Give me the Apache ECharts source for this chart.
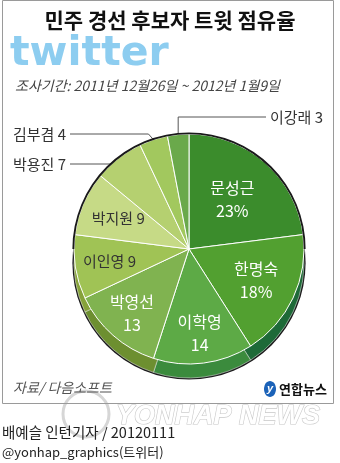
<!DOCTYPE html>
<html><head><meta charset="utf-8">
<script src="https://cdn.jsdelivr.net/npm/echarts@6/dist/echarts.min.js"></script>
<style>html,body{margin:0;padding:0;background:#fff}#c{width:340px;height:463px}</style>
</head><body><div id="c"></div>
<script>
const categories = ['문성근','한명숙','이학영','박영선','이인영','박지원','박용진','김부겸','이강래'];
const shares = [23,18,14,13,9,9,7,4,3];
const percentLabelIdx = [0,1];          // labels shown with %
const twoLineIdx = [0,1,2,3];           // name over value
const outsideIdx = [6,7,8];             // labels outside with leader lines
const titleText = '민주 경선 후보자 트윗 점유율';
const periodText = '조사기간: 2011년 12월26일 ~ 2012년 1월9일';
const sourceText = '자료/ 다음소프트';
const creditText = '배예슬 인턴기자 / 20120111';
const twitterText = '@yonhap_graphics(트위터)';

const topColors = ['#3b8c2c','#52a030','#5daa46','#80b350','#a0c355','#c6da86','#b5d070','#a2c85e','#6aa94b'];
const sideColors = ['#2a6c22','#1e6a38','#3b8b3d','#6d8f30','#86a23a','#94ac45','#90aa45','#7ea040','#4a8a3a'];

const CX = 189, CY = 249, R = 115, DEPTH = 14;
const labelRatio = [0.57, 0.645, 0.74, 0.75, 0.70, 0.67];

const total = shares.reduce((a,b)=>a+b,0);
const mids = []; let acc = 0;
shares.forEach(v => { mids.push((acc + v/2) / total * 360); acc += v; });

const chart = echarts.init(document.getElementById('c'), null, {renderer:'canvas'});
const FONT = '"Noto Sans CJK KR", "Noto Sans", sans-serif';

const topData = categories.map((n,i) => {
  const inside = outsideIdx.indexOf(i) < 0;
  const white = twoLineIdx.indexOf(i) >= 0;
  return {
    name: n, value: shares[i],
    itemStyle: {color: topColors[i]},
    label: {
      show: true,
      position: inside ? 'inside' : 'outside',
      color: white ? '#ffffff' : '#333333',
      fontSize: white ? 16 : 15,
      lineHeight: 23,
      fontFamily: FONT
    },
    labelLine: {show: !inside, lineStyle: {color: '#555', width: 1}}
  };
});
const sideData = categories.map((n,i) => ({name: n, value: shares[i], itemStyle: {color: sideColors[i]}}));

function fmt(p){
  const i = p.dataIndex;
  const val = shares[i] + (percentLabelIdx.indexOf(i) >= 0 ? '%' : '');
  return p.name + (twoLineIdx.indexOf(i) >= 0 ? '\n' : ' ') + val;
}

function rad(d){ return d * Math.PI / 180; }

chart.setOption({
  animation: false,
  graphic: [
    {type:'rect', shape:{x:2.5, y:0.5, width:331, height:403}, style:{fill:'none', stroke:'#9a9a9a', lineWidth:1}, z:0},
    {type:'text', x:170, y:20, style:{text: titleText, font:'bold 21px ' + FONT, fill:'#111', align:'center', verticalAlign:'middle'}},
    {type:'text', x:10, y:54, style:{text:'twitter', font:'bold 41px "DejaVu Sans", sans-serif', fill:'#8dcdf0', align:'left', verticalAlign:'middle'}},
    {type:'text', x:15, y:86, style:{text: periodText, font:'italic 14px ' + FONT, fill:'#444', align:'left', verticalAlign:'middle'}},
    {type:'text', x:13, y:388, style:{text: sourceText, font:'italic 14px ' + FONT, fill:'#555', align:'left', verticalAlign:'middle'}},
    {type:'ellipse', shape:{cx:270, cy:389, rx:6, ry:8}, style:{fill:'#1b62b8'}},
    {type:'text', x:270, y:389, style:{text:'y', font:'italic bold 11px sans-serif', fill:'#fff', align:'center', verticalAlign:'middle'}},
    {type:'text', x:279, y:389, style:{text:'연합뉴스', font:'bold 13px ' + FONT, fill:'#111', align:'left', verticalAlign:'middle'}},
    {type:'circle', shape:{cx:86, cy:414, r:23}, style:{fill:'none', stroke:'#d6d6d6', lineWidth:3}, z:-1},
    {type:'text', x:218, y:417, style:{text:'YONHAP NEWS', font:'italic bold 27px "Liberation Sans", sans-serif', fill:'#ffffff', stroke:'#c8c8c8', lineWidth:1.2, align:'center', verticalAlign:'middle'}, z:-1},
    {type:'text', x:2, y:432, style:{text: creditText, font:'14.5px ' + FONT, fill:'#222', align:'left', verticalAlign:'middle'}},
    {type:'text', x:2, y:452, style:{text: twitterText, font:'13px ' + FONT, fill:'#222', align:'left', verticalAlign:'middle'}}
  ],
  series: [
    {type:'pie', silent:true, center:[CX, CY+DEPTH], radius:R+1.6, label:{show:false}, labelLine:{show:false},
     data:[{value:1, itemStyle:{color:'#1a1a1a'}}], z:1},
    {type:'pie', silent:true, center:[CX, CY+DEPTH], radius:R, startAngle:90, clockwise:true,
     label:{show:false}, labelLine:{show:false}, avoidLabelOverlap:false,
     itemStyle:{borderColor:'rgba(255,255,255,0.6)', borderWidth:0.8}, data: sideData, z:2},
    {type:'pie', silent:true, center:[CX, CY], radius:R, startAngle:90, clockwise:true,
     avoidLabelOverlap:false,
     itemStyle:{borderColor:'#ffffff', borderWidth:1},
     label:{formatter: fmt},
     data: topData, z:3,
     labelLayout: function(p){
       const i = p.dataIndex;
       const a = rad(mids[i]);
       if (i < 6) {
         const rr = R * labelRatio[i];
         return {x: CX + rr*Math.sin(a), y: CY - rr*Math.cos(a), align:'center', verticalAlign:'middle'};
       }
       if (i === 6) {
         const ty = 164;
         const ex = CX - Math.sqrt(R*R - (ty-CY)*(ty-CY));
         return {x: 66, y: ty, align:'right', verticalAlign:'middle', labelLinePoints:[[ex, ty],[ex, ty],[70, ty]]};
       }
       if (i === 7) {
         const ex = CX + R*Math.sin(a), ey = CY - R*Math.cos(a);
         return {x: 66, y: 134, align:'right', verticalAlign:'middle', labelLinePoints:[[ex, ey],[ex-5, 134],[70, 134]]};
       }
       const ex = CX + R*Math.sin(a), ey = CY - R*Math.cos(a);
       return {x: 270, y: 117, align:'left', verticalAlign:'middle', labelLinePoints:[[ex, ey],[ex, 117],[266, 117]]};
     }},
    {type:'pie', silent:true, center:[CX, CY], radius:[R-0.3, R+1.6], startAngle:180, clockwise:true,
     label:{show:false}, labelLine:{show:false},
     data:[{value:1, itemStyle:{color:'#1a1a1a'}},{value:1, itemStyle:{color:'rgba(0,0,0,0)'}}], z:4}
  ]
});
</script></body></html>
